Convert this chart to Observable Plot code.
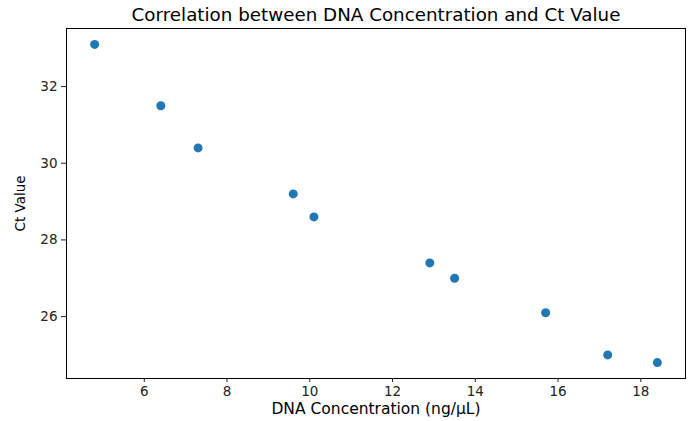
<!DOCTYPE html>
<html>
<head>
<meta charset="utf-8">
<script src="https://cdn.jsdelivr.net/npm/d3@7"></script>
<script src="https://cdn.jsdelivr.net/npm/@observablehq/plot@0.6"></script>
<style>
  html, body { margin: 0; padding: 0; background: #fff; }
  #chart svg { display: block; }
  #chart svg, #chart svg text { font-family: "DejaVu Sans", sans-serif !important; }
</style>
</head>
<body>
<div id="chart"></div>
<script>
const concentration = [4.8, 6.4, 7.3, 9.6, 10.1, 12.9, 13.5, 15.7, 17.2, 18.4];
const ctValue = [33.1, 31.5, 30.4, 29.2, 28.6, 27.4, 27.0, 26.1, 25.0, 24.8];
const xTicks = [6, 8, 10, 12, 14, 16, 18];
const yTicks = [26, 28, 30, 32];
const title = "Correlation between DNA Concentration and Ct Value";
const xLabel = "DNA Concentration (ng/μL)";
const yLabel = "Ct Value";

const data = concentration.map((c, i) => ({x: c, y: ctValue[i]}));

const chart = Plot.plot({
  width: 692,
  height: 421,
  marginLeft: 66,
  marginRight: 7,
  marginTop: 28,
  marginBottom: 43,
  style: {fontFamily: "'DejaVu Sans', sans-serif", fontSize: "13px", color: "#222"},
  x: {domain: [4.12, 19.08], ticks: xTicks, tickSize: 4, tickPadding: 4, label: null},
  y: {domain: [24.385, 33.515], ticks: yTicks, tickSize: 5, tickPadding: 4, label: null},
  marks: [
    Plot.frame({stroke: "#000", strokeWidth: 1}),
    Plot.axisX({ticks: xTicks, tickSize: 4, tickPadding: 4, fontSize: 13.5, label: null}),
    Plot.axisY({ticks: yTicks, tickSize: 5, tickPadding: 4, fontSize: 13.5, label: null}),
    Plot.dot(data, {x: "x", y: "y", r: 4.5, fill: "#1f77b4", stroke: "none"}),
    Plot.text([title], {frameAnchor: "top", dy: -13, fontSize: 18.3, fill: "#000", lineAnchor: "middle"}),
    Plot.text([xLabel], {frameAnchor: "bottom", dy: 31, fontSize: 15.5, fill: "#000", lineAnchor: "middle"}),
    Plot.text([yLabel], {frameAnchor: "left", dx: -46, rotate: -90, fontSize: 13.5, fill: "#000", textAnchor: "middle", lineAnchor: "middle"})
  ]
});
document.getElementById("chart").appendChild(chart);
</script>
</body>
</html>
